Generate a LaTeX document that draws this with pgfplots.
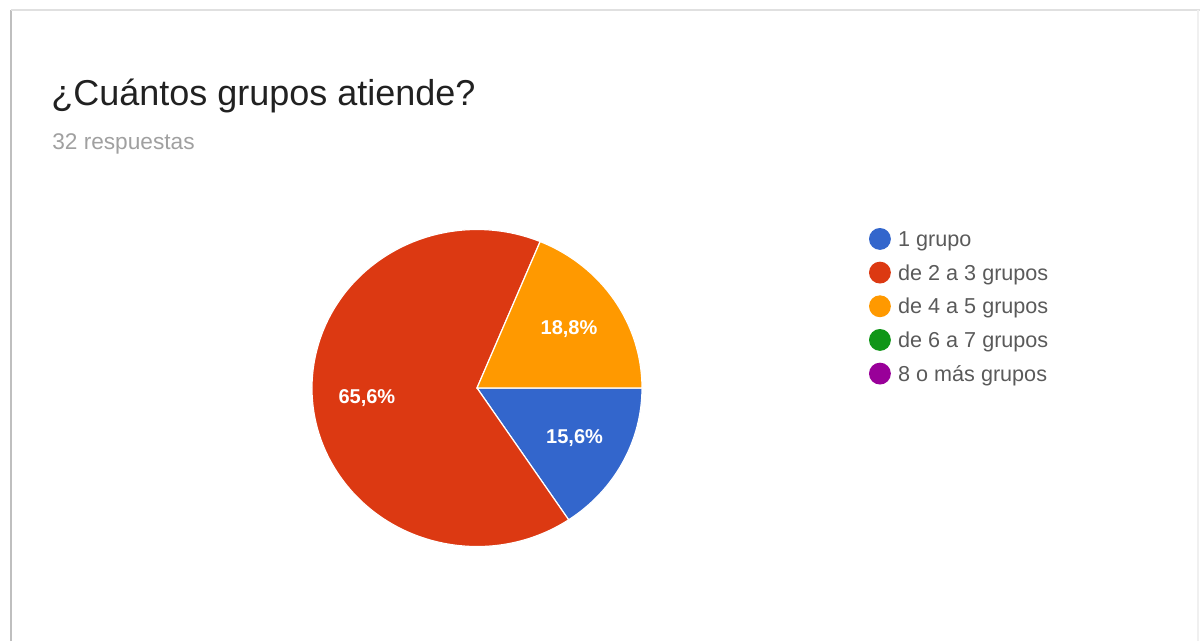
\documentclass[border=0pt]{standalone}
\usepackage{pgfplots}
\usepackage{pgfplotstable}
\pgfplotsset{compat=1.18}
\usepackage{fontspec}
\setmainfont{Liberation Sans}
\definecolor{cBlue}{HTML}{3366CC}
\definecolor{cRed}{HTML}{DC3912}
\definecolor{cOrange}{HTML}{FF9900}
\definecolor{cGreen}{HTML}{109618}
\definecolor{cPurple}{HTML}{990099}
\definecolor{titlecol}{HTML}{212121}
\definecolor{subcol}{HTML}{A0A0A0}
\definecolor{legcol}{HTML}{5A5A5A}

% respuestas por categoria (32 en total)
\pgfplotstableread{
idx count
0 5
1 21
2 6
3 0
4 0
}\piedata

\begin{document}%
\begin{tikzpicture}
\pgfplotstablegetelem{0}{count}\of\piedata\pgfmathsetmacro{\nA}{\pgfplotsretval}
\pgfplotstablegetelem{1}{count}\of\piedata\pgfmathsetmacro{\nB}{\pgfplotsretval}
\pgfplotstablegetelem{2}{count}\of\piedata\pgfmathsetmacro{\nC}{\pgfplotsretval}
\pgfplotstablegetelem{3}{count}\of\piedata\pgfmathsetmacro{\nD}{\pgfplotsretval}
\pgfplotstablegetelem{4}{count}\of\piedata\pgfmathsetmacro{\nE}{\pgfplotsretval}
\pgfmathsetmacro{\tot}{\nA+\nB+\nC+\nD+\nE}
\pgfmathsetmacro{\aA}{-360*\nA/\tot}
\pgfmathsetmacro{\aB}{\aA-360*\nB/\tot}
\pgfmathsetmacro{\aC}{\aB-360*\nC/\tot}
\pgfmathsetmacro{\mA}{\aA/2}
\pgfmathsetmacro{\mB}{(\aA+\aB)/2}
\pgfmathsetmacro{\mC}{(\aB+\aC)/2}
\pgfmathsetmacro{\pA}{100*\nA/\tot}
\pgfmathsetmacro{\pB}{100*\nB/\tot}
\pgfmathsetmacro{\pC}{100*\nC/\tot}
\begin{axis}[
  scale only axis, width=903pt, height=480.75pt,
  xmin=0, xmax=1204, ymin=0, ymax=641, y dir=reverse,
  hide axis, clip=false,
  legend style={
    at={(axis cs:869,228)}, anchor=north west,
    draw=none, fill=none, inner sep=0pt, outer sep=0pt,
    font=\fontsize{16.2}{19}\selectfont, text=legcol,
    row sep=8.1pt, column sep=5.5pt,
    nodes={inner sep=0pt, text height=11.5pt, text depth=3.2pt}},
  legend cell align=left,
  legend image code/.code={\fill[#1, draw=none] (0pt,1.6pt) circle (8.2pt);}
]
% marco completo de la imagen
\path (axis cs:0,0) (axis cs:1204,641);
% tarjeta
\draw[color=black!25, line width=1.5pt] (axis cs:11,641) -- (axis cs:11,10);
\draw[color=black!12, line width=1pt] (axis cs:11,10) -- (axis cs:1200,10);
\draw[color=black!6, line width=1pt] (axis cs:1198,10) -- (axis cs:1198,641);
% titulos
\node[anchor=base west, inner sep=0pt, text=titlecol, font=\fontsize{27}{32}\selectfont] at (axis cs:51,106) {¿Cuántos grupos atiende?};
\node[anchor=base west, inner sep=0pt, text=subcol, font=\fontsize{17}{20}\selectfont] at (axis cs:52,150) {32 respuestas};
% sectores
\fill[cBlue, draw=white, line width=0.9pt] (axis cs:477,388) -- ++(0:123.75pt and 118.9pt) arc[start angle=0, end angle=\aA, x radius=123.75pt, y radius=118.9pt] -- cycle;
\fill[cRed, draw=white, line width=0.9pt] (axis cs:477,388) -- ++(\aA:123.75pt and 118.9pt) arc[start angle=\aA, end angle=\aB, x radius=123.75pt, y radius=118.9pt] -- cycle;
\fill[cOrange, draw=white, line width=0.9pt] (axis cs:477,388) -- ++(\aB:123.75pt and 118.9pt) arc[start angle=\aB, end angle=\aC, x radius=123.75pt, y radius=118.9pt] -- cycle;
% etiquetas
\node[text=white, font=\bfseries\fontsize{15}{18}\selectfont, shift={(\mA:83pt and 80pt)}] at (axis cs:477,388) {\pgfmathprintnumber[fixed,fixed zerofill,precision=1,use comma,assume math mode=true]{\pA}\%};
\node[text=white, font=\bfseries\fontsize{15}{18}\selectfont, shift={(\mB:83pt and 80pt)}] at (axis cs:477,388) {\pgfmathprintnumber[fixed,fixed zerofill,precision=1,use comma,assume math mode=true]{\pB}\%};
\node[text=white, font=\bfseries\fontsize{15}{18}\selectfont, shift={(\mC:83pt and 80pt)}] at (axis cs:477,388) {\pgfmathprintnumber[fixed,fixed zerofill,precision=1,use comma,assume math mode=true]{\pC}\%};
% leyenda
\addlegendimage{fill=cBlue}\addlegendentry{1 grupo}
\addlegendimage{fill=cRed}\addlegendentry{de 2 a 3 grupos}
\addlegendimage{fill=cOrange}\addlegendentry{de 4 a 5 grupos}
\addlegendimage{fill=cGreen}\addlegendentry{de 6 a 7 grupos}
\addlegendimage{fill=cPurple}\addlegendentry{8 o más grupos}
\end{axis}
\end{tikzpicture}%
\end{document}
